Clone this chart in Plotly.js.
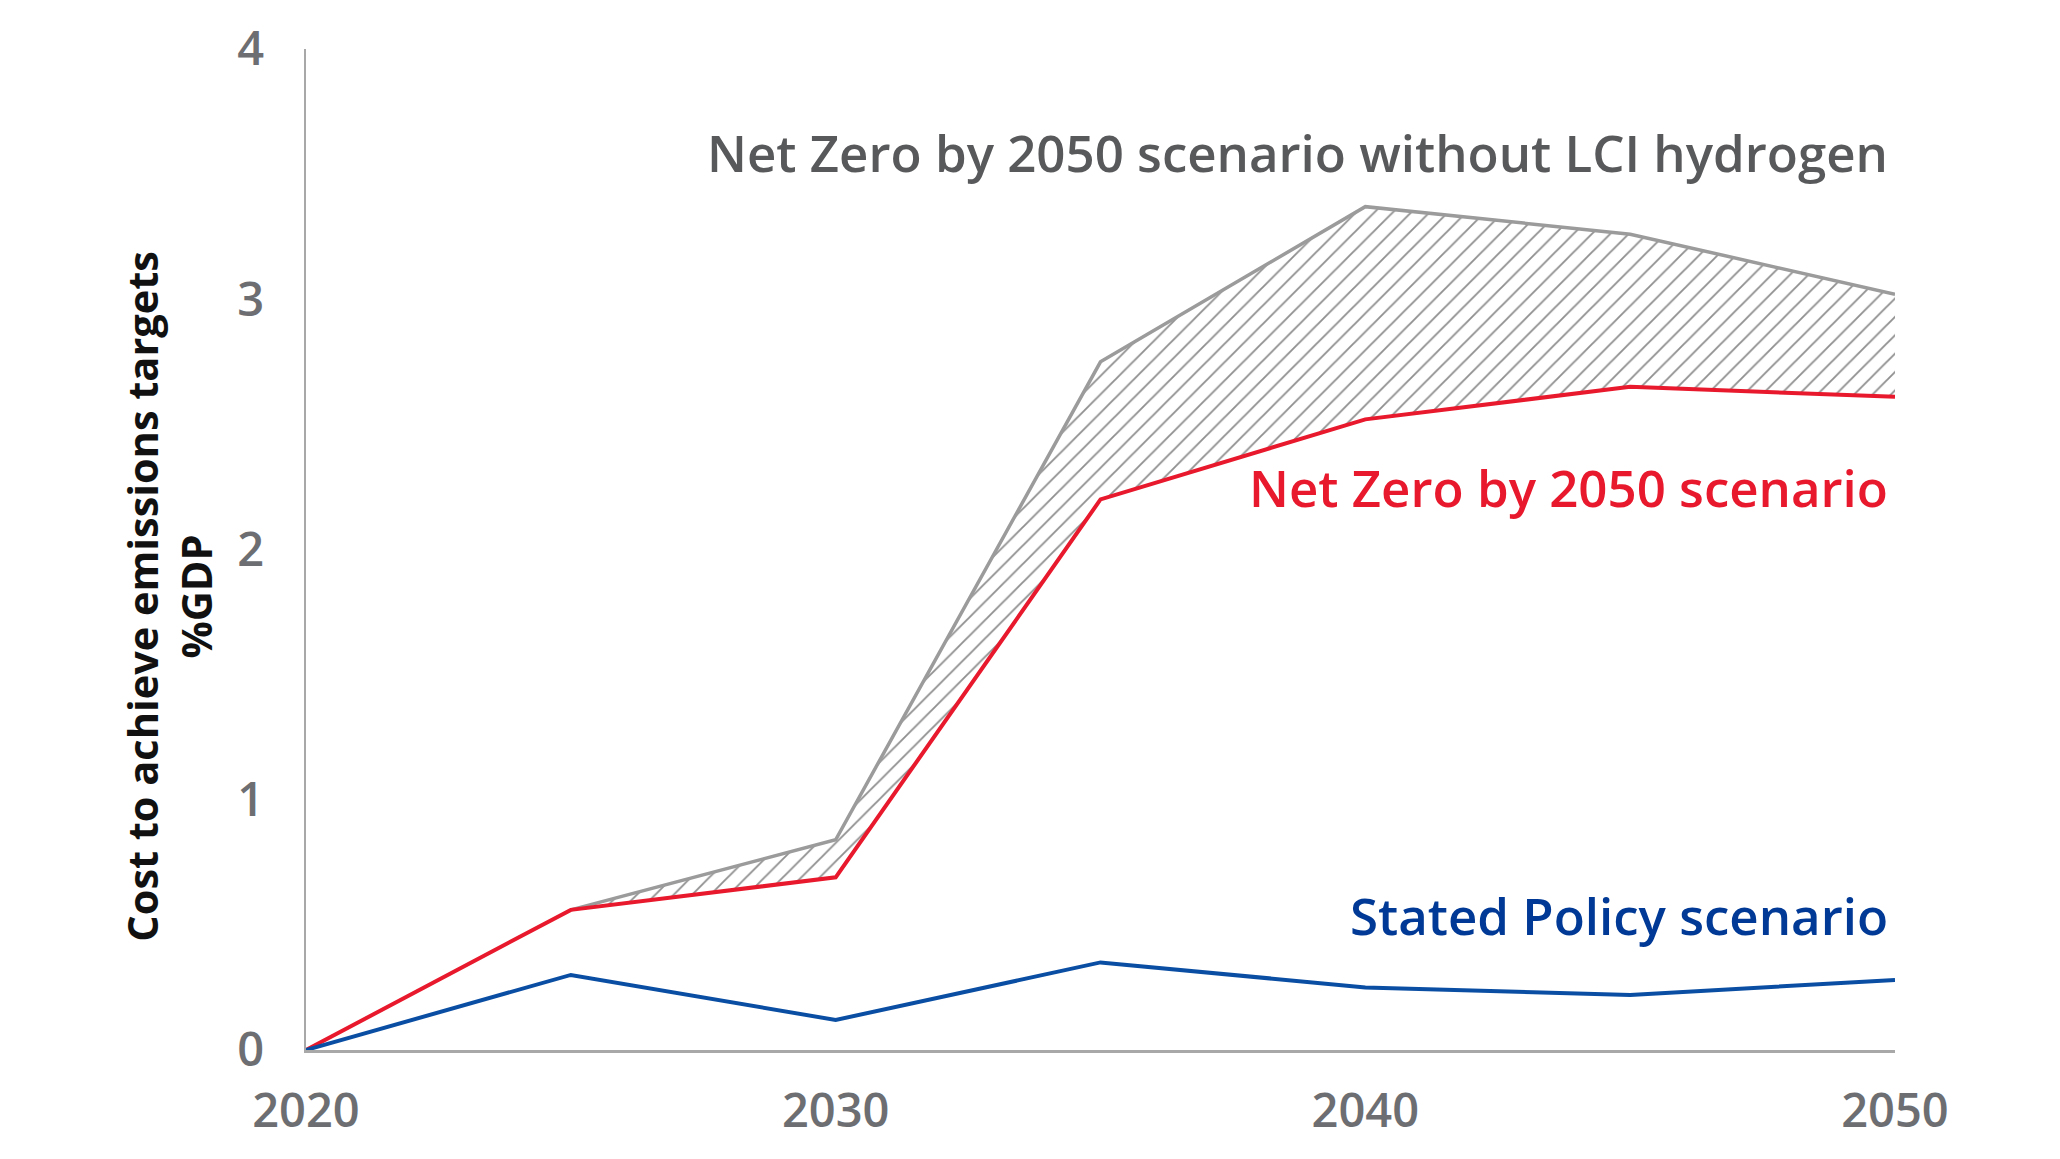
<!DOCTYPE html>
<html>
<head>
<meta charset="utf-8">
<script src="https://cdn.plot.ly/plotly-3.0.1.min.js"></script>
<style>
  html, body { margin: 0; padding: 0; background: #fff; }
  #grafico { width: 2060px; height: 1159px; }
</style>
</head>
<body>
<div id="grafico"></div>
<script>
// anos (eixo x)
const years = [2020, 2025, 2030, 2035, 2040, 2045, 2050];
// custo em %PIB
const statedPolicy = [0, 0.30, 0.12, 0.35, 0.25, 0.22, 0.28];
const netZero = [0, 0.56, 0.69, 2.20, 2.52, 2.65, 2.61];
const noHydrogenYears = [2025, 2030, 2035, 2040, 2045, 2050];
const netZeroNoHydrogen = [0.56, 0.84, 2.75, 3.37, 3.26, 3.02];

const yTicks = [0, 1, 2, 3, 4];
const xTicks = [2020, 2030, 2040, 2050];

const labelNoH2 = 'Net Zero by 2050 scenario without LCI hydrogen';
const labelNetZero = 'Net Zero by 2050 scenario';
const labelStated = 'Stated Policy scenario';
const yTitle = 'Cost to achieve emissions targets<br>%GDP';

const fontFam = '"Open Sans", "Noto Sans", sans-serif';

plot();
function plot() {
	// limite de baixo da área hachurada (mesmos valores do Net Zero, a partir de 2025)
	const lower = {
		x: noHydrogenYears,
		y: netZero.slice(years.indexOf(noHydrogenYears[0])),
		mode: 'lines',
		line: {width: 0, color: 'rgba(0,0,0,0)'},
		hoverinfo: 'skip',
		showlegend: false
	};
	const noH2 = {
		x: noHydrogenYears,
		y: netZeroNoHydrogen,
		mode: 'lines',
		fill: 'tonexty',
		fillcolor: 'rgba(0,0,0,0)',
		fillpattern: {shape: '/', fgcolor: '#8f8f8f', bgcolor: '#ffffff', size: 13, solidity: 0.14},
		line: {color: '#9b9b9b', width: 3.5},
		showlegend: false
	};
	const nz = {
		x: years,
		y: netZero,
		mode: 'lines',
		line: {color: '#e8192c', width: 4},
		showlegend: false
	};
	const sp = {
		x: years,
		y: statedPolicy,
		mode: 'lines',
		line: {color: '#0a4ea3', width: 4},
		showlegend: false
	};

	const tickFont = {family: fontFam, size: 47, color: '#6d6e71', weight: 600};
	const annFont = (c) => ({family: fontFam, size: 51, color: c, weight: 600});

	const layout = {
		width: 2060,
		height: 1159,
		paper_bgcolor: '#ffffff',
		plot_bgcolor: '#ffffff',
		margin: {l: 306, r: 165, t: 49, b: 109},
		xaxis: {
			range: [2020, 2050],
			tickvals: xTicks,
			ticktext: xTicks.map(String),
			showgrid: false,
			zeroline: false,
			showline: true,
			linecolor: '#a8a8a8',
			linewidth: 2.5,
			ticks: '',
			tickfont: tickFont,
			ticklabelstandoff: 18
		},
		yaxis: {
			range: [0, 4],
			tickvals: yTicks,
			ticktext: yTicks.map(String),
			showgrid: false,
			zeroline: false,
			showline: true,
			linecolor: '#a8a8a8',
			linewidth: 2.5,
			ticks: '',
			tickfont: tickFont,
			ticklabelstandoff: 30
		},
		annotations: [
			{x: 2050, y: 3.59, xref: 'x', yref: 'y', xshift: -5, text: labelNoH2, showarrow: false,
				xanchor: 'right', yanchor: 'middle', font: annFont('#58595b')},
			{x: 2050, y: 2.25, xref: 'x', yref: 'y', xshift: -5, text: labelNetZero, showarrow: false,
				xanchor: 'right', yanchor: 'middle', font: annFont('#e8192c')},
			{x: 2050, y: 0.54, xref: 'x', yref: 'y', xshift: -5, text: labelStated, showarrow: false,
				xanchor: 'right', yanchor: 'middle', font: annFont('#003a96')},
			// título do eixo y (um pouco abaixo do centro, como no original)
			{x: -0.0864, y: 0.4535, xref: 'paper', yref: 'paper', text: yTitle, showarrow: false,
				textangle: -90, xanchor: 'center', yanchor: 'middle',
				font: {family: fontFam, size: 41.5, color: '#111111', weight: 700}}
		]
	};

	Plotly.newPlot('grafico', [lower, noH2, nz, sp], layout, {displayModeBar: false, staticPlot: true});
}
</script>
</body>
</html>
